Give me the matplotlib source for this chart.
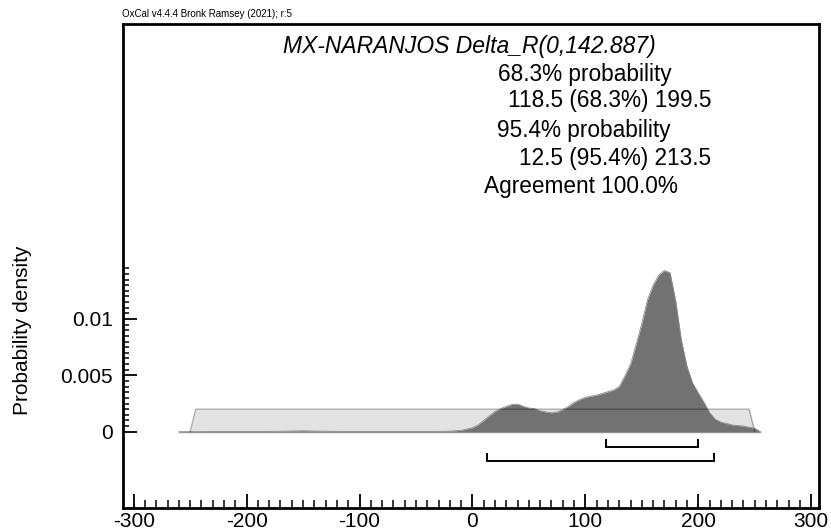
import numpy as np
import matplotlib.pyplot as plt

plt.rcParams['font.family'] = ['Liberation Sans', 'DejaVu Sans']

# posterior density of Delta_R
post_x = [-260, -210, -180, -160, -150, -140, -120, -100, -60, -30, -20, -10,
          0, 5, 10, 15, 20, 25, 30, 35, 40, 45, 50, 55, 60, 65, 70, 75, 80,
          85, 90, 95, 100, 105, 110, 115, 120, 125, 130, 135, 140, 145, 150,
          155, 160, 165, 170, 175, 180, 185, 190, 195, 200, 205, 210, 215,
          220, 230, 240, 250, 255]
post_y = [0, 0.02, 0.03, 0.06, 0.08, 0.06, 0.03, 0.02, 0.02, 0.03, 0.05, 0.12,
          0.35, 0.6, 1.0, 1.4, 1.8, 2.05, 2.25, 2.42, 2.45, 2.25, 2.1, 2.05,
          1.85, 1.75, 1.68, 1.75, 1.95, 2.25, 2.6, 2.85, 3.05, 3.15, 3.25,
          3.4, 3.55, 3.7, 4.0, 4.95, 6.0, 7.75, 9.6, 11.7, 13.0, 13.9, 14.3,
          14.1, 11.6, 8.1, 5.8, 4.3, 3.45, 2.6, 1.7, 1.1, 0.85, 0.6, 0.5,
          0.3, 0]
post_y = np.array(post_y) * 1e-3

# prior (uniform -250..250)
prior_x = [-250, -245, 245, 250]
prior_y = [0, 0.002, 0.002, 0]

range68 = [118.5, 199.5]
range95 = [12.5, 213.5]

title = 'MX-NARANJOS Delta_R(0,142.887)'
lines = ['68.3% probability', '118.5 (68.3%) 199.5', '95.4% probability',
         '12.5 (95.4%) 213.5', 'Agreement 100.0%']

W, H = 831, 532
fig = plt.figure(figsize=(W / 100, H / 100), dpi=100)
ax = fig.add_axes([122.7 / W, 1 - 507.7 / H, (819 - 122.7) / W, (507.7 - 24) / H])

ax.fill_between(prior_x, prior_y, color='#e3e3e3', lw=0, zorder=1)
ax.plot([-260, 255], [0, 0], color='#999999', lw=1, zorder=1)
ax.fill_between(post_x, post_y, color='#727272', lw=0, zorder=2)
ax.plot(post_x, post_y, color='#8a8a8a', lw=0.6, zorder=2)
ax.plot(prior_x, prior_y, color='black', alpha=0.3, lw=1, zorder=3)

# probability range brackets
for r, yl, yt in [(range68, -0.00133, -0.00074), (range95, -0.0026, -0.00198)]:
    ax.plot([r[0], r[0], r[1], r[1]], [yt, yl, yl, yt], color='black', lw=1.4,
            solid_joinstyle='miter', zorder=4)

ax.set_xlim(-309.7, 306.9)
ax.set_ylim(-0.00674, 0.03617)

ax.set_xticks(np.arange(-300, 301, 100))
ax.set_xticks(np.arange(-300, 301, 10), minor=True)
ax.set_xticklabels(['-300', '-200', '-100', '0', '100', '200', '300'])
ax.set_yticks([0, 0.005, 0.01])
ax.set_yticklabels(['0', '0.005', '0.01'])
ax.set_yticks(np.arange(0, 0.01451, 0.0005), minor=True)

ax.tick_params(axis='both', which='both', direction='in', labelsize=15,
               top=False, right=False)
ax.tick_params(axis='x', which='major', length=10, width=1.3, pad=3)
ax.tick_params(axis='x', which='minor', length=6, width=1.1)
ax.tick_params(axis='y', which='major', length=10, width=1.3, pad=7)
ax.tick_params(axis='y', which='minor', length=4, width=1.1)
for s in ax.spines.values():
    s.set_linewidth(2)

ax.set_ylabel('Probability density', fontsize=15)
ax.yaxis.set_label_coords(-0.130, 0.367)

fig.text(122 / W, 1 - 14 / H, 'OxCal v4.4.4 Bronk Ramsey (2021); r:5',
         fontsize=7, va='center', ha='left')
fig.text(469 / W, 1 - 46 / H, title, fontsize=16.5, style='italic',
         ha='center', va='center')
pos = [(498, 74, 'left'), (711, 101, 'right'), (497, 130, 'left'),
       (711, 158, 'right'), (484, 187, 'left')]
for (px, py, ha), t in zip(pos, lines):
    fig.text(px / W, 1 - py / H, t, fontsize=16.3, ha=ha, va='center')

fig.savefig('out.png', dpi=100)
